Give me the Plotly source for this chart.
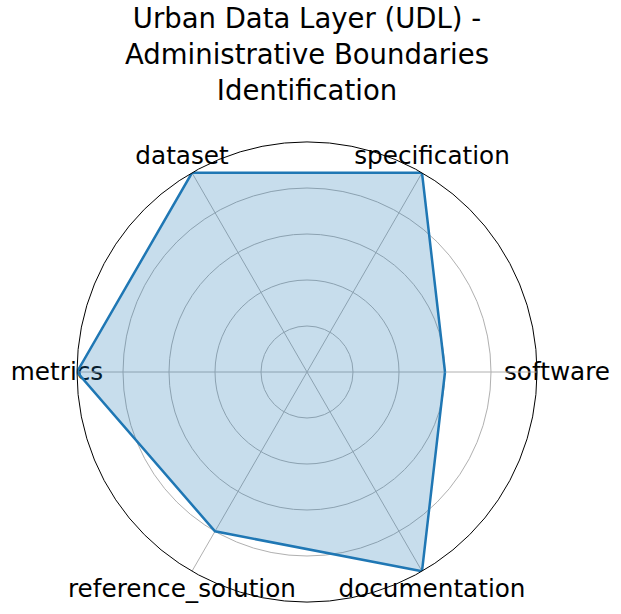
import numpy as np
import plotly.graph_objects as go

categories = ["software", "specification", "dataset", "metrics", "reference_solution", "documentation"]
values = [0.6, 1.0, 1.0, 1.0, 0.8, 1.0]
grid_ticks = [0.2, 0.4, 0.6, 0.8]
title_text = "Urban Data Layer (UDL) -<br>Administrative Boundaries<br>Identification"

W, H = 621, 614
FONT = "DejaVu Sans"
LABEL_R = 1.087
CX, CY, RAD = 307, 372, 230          # polar frame in pixels
XSPAN = 1.2                          # cartesian overlay half-width in radius units
LABEL_DROP = 2                       # px nudge of label overlay
DOM_X = [(CX - RAD) / W, (CX + RAD) / W]
DOM_Y = [(H - CY - RAD) / H, (H - CY + RAD) / H]
OV_X = [(CX - RAD * XSPAN) / W, (CX + RAD * XSPAN) / W]
OV_Y = [(H - CY - RAD - LABEL_DROP) / H, (H - CY + RAD - LABEL_DROP) / H]

theta_closed = categories + [categories[0]]
r_closed = values + [values[0]]

fig = go.Figure()
fig.add_trace(go.Scatterpolar(
    r=r_closed, theta=theta_closed, mode="lines",
    line=dict(color="#1f77b4", width=2.5),
    fill="toself", fillcolor="rgba(31,119,180,0.25)",
    hoverinfo="skip", showlegend=False,
))

# category labels placed on an invisible cartesian overlay sharing the polar frame
ang = np.deg2rad(np.arange(len(categories)) * 360 / len(categories))
fig.add_trace(go.Scatter(
    x=LABEL_R * np.cos(ang), y=LABEL_R * np.sin(ang), mode="text",
    text=categories, textposition="middle center",
    textfont=dict(family=FONT, size=24.7, color="black"),
    cliponaxis=False, hoverinfo="skip", showlegend=False,
))

fig.update_layout(
    width=W, height=H,
    margin=dict(l=0, r=0, t=0, b=0),
    paper_bgcolor="white",
    plot_bgcolor="rgba(0,0,0,0)",
    font=dict(family=FONT, color="black"),
    title=dict(text=title_text, x=CX / W, xanchor="center",
               y=1 - 28 / H, yanchor="middle", yref="container",
               font=dict(family=FONT, size=27.5, color="black")),
    xaxis=dict(domain=OV_X, range=[-XSPAN, XSPAN], visible=False, fixedrange=True),
    yaxis=dict(domain=OV_Y, range=[-1, 1], visible=False, fixedrange=True),
    polar=dict(
        domain=dict(x=DOM_X, y=DOM_Y),
        bgcolor="rgba(0,0,0,0)",
        radialaxis=dict(range=[0, 1], tickvals=grid_ticks, showticklabels=False,
                        showline=False, ticks="", gridcolor="#b0b0b0", gridwidth=1),
        angularaxis=dict(type="category", categoryarray=categories, rotation=0,
                         direction="counterclockwise", showticklabels=False, ticks="",
                         showline=True, linecolor="black", linewidth=1,
                         gridcolor="#b0b0b0", gridwidth=1),
    ),
)

fig.write_html("out.html")
